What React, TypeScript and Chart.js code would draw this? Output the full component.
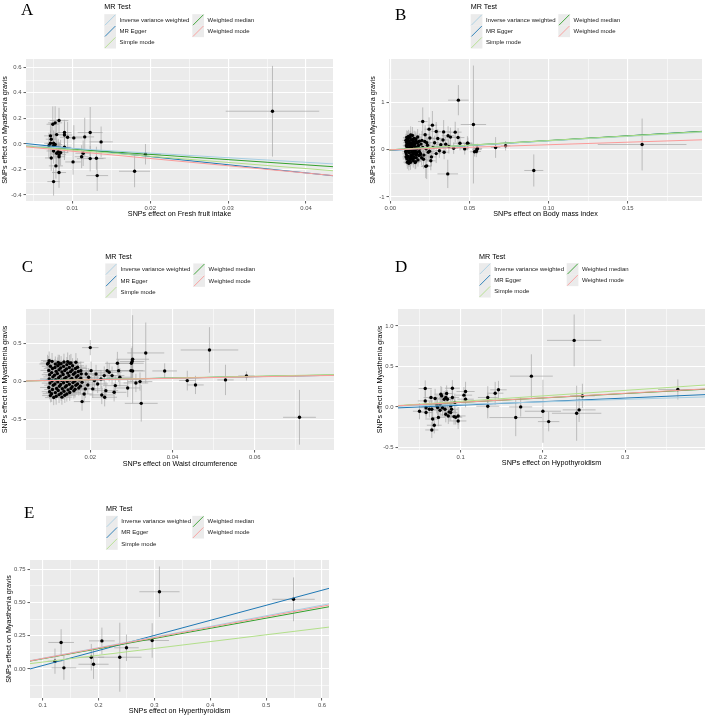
import React, { useEffect, useRef } from 'react';
import { Chart, registerables } from 'chart.js';
Chart.register(...registerables);

const SANS = "'Liberation Sans', Arial, sans-serif";
const SERIF = "'Liberation Serif', 'Times New Roman', serif";

const methodNames = ['Inverse variance weighted', 'MR Egger', 'Simple mode', 'Weighted median', 'Weighted mode'];
const methodColors = ['#A6CEE3', '#1F78B4', '#B2DF8A', '#33A02C', '#FB9A99'];
const methodDrawOrder = [3, 5, 2, 4, 1];
const yTitle = 'SNPs effect on Myasthenia gravis';

// ---------- Panel A : Fresh fruit intake ----------  [x, y, seX, seY]
const fruitPoints = [
  [0.0357, 0.256, 0.006, 0.355], [0.0194, -0.081, 0.002, 0.08], [0.0180, -0.214, 0.002, 0.125],
  [0.0132, -0.248, 0.0014, 0.12], [0.0131, -0.112, 0.0012, 0.09], [0.0123, -0.115, 0.0017, 0.1],
  [0.0137, 0.016, 0.0015, 0.12], [0.0123, 0.089, 0.0016, 0.2], [0.0116, 0.055, 0.0012, 0.15],
  [0.0114, -0.073, 0.001, 0.1], [0.0112, -0.100, 0.0009, 0.09], [0.0102, 0.047, 0.0011, 0.1],
  [0.0101, -0.141, 0.001, 0.1], [0.0094, 0.052, 0.001, 0.12], [0.0090, 0.070, 0.001, 0.1],
  [0.0090, 0.089, 0.0009, 0.1], [0.0090, -0.026, 0.0008, 0.1], [0.0083, 0.183, 0.0012, 0.1],
  [0.0080, 0.073, 0.001, 0.12], [0.0078, 0.165, 0.0009, 0.13], [0.0075, 0.154, 0.0008, 0.14],
  [0.0072, 0.063, 0.0008, 0.1], [0.0073, 0.037, 0.0007, 0.1], [0.0076, 0.005, 0.0009, 0.1],
  [0.0076, -0.013, 0.0008, 0.09], [0.0078, -0.005, 0.0009, 0.1], [0.0072, 0.005, 0.0008, 0.1],
  [0.0070, -0.013, 0.0007, 0.1], [0.0073, -0.110, 0.0008, 0.1], [0.0076, -0.055, 0.0009, 0.1],
  [0.0080, -0.073, 0.0008, 0.1], [0.0082, -0.060, 0.0009, 0.1], [0.0083, -0.084, 0.0009, 0.1],
  [0.0085, -0.068, 0.001, 0.1], [0.0079, -0.172, 0.0009, 0.1], [0.0083, -0.224, 0.0009, 0.12],
  [0.0076, -0.295, 0.0008, 0.11], [0.0083, -0.100, 0.0008, 0.1],
];
const fruitSlopes = [-3.6, -6.4, -4.83, -4.1, -5.7];
const fruitEggerIntercept = 0.029;
const fruitXTicks = [0.01, 0.02, 0.03, 0.04];
const fruitXLabels = ['0.01', '0.02', '0.03', '0.04'];
const fruitYTicks = [-0.4, -0.2, 0, 0.2, 0.4, 0.6];
const fruitYLabels = ['-0.4', '-0.2', '0.0', '0.2', '0.4', '0.6'];

// ---------- Panel B : Body mass index ----------
const bmiPoints = [
  [0.0430, 1.053, 0.0065, 0.32], [0.0525, 0.537, 0.008, 1.25], [0.1590, 0.113, 0.028, 0.55],
  [0.0906, -0.438, 0.006, 0.34], [0.0363, -0.510, 0.0065, 0.3], [0.0728, 0.085, 0.003, 0.1],
  [0.0665, 0.050, 0.003, 0.22], [0.0543, -0.035, 0.003, 0.12], [0.0550, 0.028, 0.003, 0.1],
  [0.0487, 0.141, 0.003, 0.15], [0.0470, 0.020, 0.003, 0.12], [0.0230, -0.340, 0.003, 0.28],
  [0.0256, -0.233, 0.003, 0.2], [0.0266, 0.523, 0.003, 0.3], [0.0245, 0.438, 0.003, 0.25],
  [0.0205, 0.600, 0.003, 0.3], [0.0337, 0.380, 0.004, 0.25], [0.0380, 0.270, 0.004, 0.2],
  [0.0410, 0.375, 0.004, 0.22], [0.0428, 0.260, 0.004, 0.2], [0.0365, 0.300, 0.004, 0.2],
  [0.0333, 0.210, 0.003, 0.2], [0.0319, 0.110, 0.003, 0.15], [0.0370, 0.070, 0.003, 0.15],
  [0.0400, 0.035, 0.003, 0.12], [0.0440, 0.140, 0.004, 0.15], [0.0490, 0.140, 0.003, 0.12],
  [0.0532, -0.042, 0.003, 0.1], [0.0547, 0.007, 0.003, 0.1], [0.0224, -0.350, 0.003, 0.25],
  [0.0161, -0.250, 0.003, 0.15], [0.0190, -0.106, 0.003, 0.15], [0.0290, 0.390, 0.003, 0.2],
  [0.0300, 0.240, 0.003, 0.2], [0.0280, 0.150, 0.003, 0.15], [0.0270, 0.050, 0.003, 0.2],
  [0.0290, -0.080, 0.003, 0.2], [0.0310, -0.020, 0.003, 0.15], [0.0260, -0.150, 0.003, 0.2],
  [0.0340, -0.050, 0.003, 0.15], [0.0350, 0.120, 0.003, 0.15], [0.0250, 0.250, 0.003, 0.2],
  [0.0230, 0.150, 0.003, 0.2], [0.0220, 0.320, 0.003, 0.2], [0.0240, -0.050, 0.003, 0.2],
  [0.0210, -0.200, 0.003, 0.2], [0.0200, 0.200, 0.003, 0.2],
  [0.0098, 0.012, 0.0022, 0.12], [0.0101, -0.085, 0.0024, 0.15], [0.0103, 0.154, 0.0021, 0.13],
  [0.0105, -0.192, 0.0026, 0.14], [0.0107, 0.071, 0.0023, 0.11], [0.0109, 0.236, 0.0025, 0.16],
  [0.0110, -0.031, 0.0022, 0.12], [0.0112, -0.142, 0.0024, 0.13], [0.0113, 0.118, 0.0027, 0.15],
  [0.0115, 0.284, 0.0023, 0.14], [0.0116, -0.238, 0.0025, 0.12], [0.0118, 0.034, 0.0022, 0.1],
  [0.0119, 0.192, 0.0028, 0.17], [0.0121, -0.062, 0.0024, 0.13], [0.0122, -0.171, 0.0023, 0.15],
  [0.0124, 0.097, 0.0026, 0.12], [0.0125, 0.261, 0.0025, 0.14], [0.0127, -0.005, 0.0022, 0.11],
  [0.0128, -0.264, 0.0027, 0.16], [0.0130, 0.152, 0.0024, 0.13], [0.0131, -0.113, 0.0026, 0.12],
  [0.0133, 0.047, 0.0023, 0.14], [0.0134, 0.212, 0.0029, 0.15], [0.0136, -0.198, 0.0025, 0.13],
  [0.0137, -0.041, 0.0024, 0.12], [0.0139, 0.128, 0.0027, 0.14], [0.0140, 0.305, 0.0026, 0.18],
  [0.0142, -0.087, 0.0023, 0.11], [0.0143, 0.018, 0.0028, 0.13], [0.0145, -0.226, 0.0025, 0.15],
  [0.0146, 0.176, 0.0024, 0.12], [0.0148, 0.083, 0.0027, 0.14], [0.0150, -0.152, 0.0026, 0.13],
  [0.0151, 0.243, 0.0029, 0.16], [0.0153, -0.014, 0.0025, 0.12], [0.0155, 0.134, 0.0028, 0.15],
  [0.0157, -0.271, 0.0026, 0.14], [0.0158, -0.096, 0.0027, 0.13], [0.0160, 0.061, 0.0024, 0.12],
  [0.0162, 0.198, 0.003, 0.15], [0.0164, -0.168, 0.0027, 0.14], [0.0166, 0.012, 0.0026, 0.12],
  [0.0168, 0.147, 0.0029, 0.15], [0.0170, -0.058, 0.0028, 0.13], [0.0173, 0.272, 0.003, 0.17],
  [0.0175, -0.214, 0.0027, 0.14], [0.0178, 0.093, 0.0029, 0.13], [0.0181, -0.121, 0.003, 0.15],
  [0.0184, 0.184, 0.0031, 0.16], [0.0187, 0.031, 0.0028, 0.12], [0.0190, -0.079, 0.003, 0.14],
  [0.0194, 0.122, 0.0032, 0.15], [0.0198, -0.167, 0.003, 0.16], [0.0102, 0.093, 0.0023, 0.12],
  [0.0106, -0.128, 0.0024, 0.13], [0.0111, 0.182, 0.0025, 0.14], [0.0114, -0.011, 0.0023, 0.11],
  [0.0117, -0.287, 0.0026, 0.15], [0.0120, 0.137, 0.0024, 0.13], [0.0123, -0.219, 0.0025, 0.14],
  [0.0126, 0.054, 0.0027, 0.12], [0.0129, 0.318, 0.0028, 0.18], [0.0132, -0.152, 0.0026, 0.13],
  [0.0135, 0.089, 0.0025, 0.12], [0.0138, -0.114, 0.0027, 0.14], [0.0141, 0.221, 0.0026, 0.15],
  [0.0144, -0.038, 0.0024, 0.12], [0.0147, -0.178, 0.0028, 0.14], [0.0152, 0.108, 0.0027, 0.13],
  [0.0156, -0.046, 0.0026, 0.12], [0.0161, 0.229, 0.0029, 0.16], [0.0165, -0.105, 0.0028, 0.13],
  [0.0171, 0.038, 0.0027, 0.12], [0.0176, 0.162, 0.003, 0.15], [0.0183, -0.032, 0.0029, 0.13],
  [0.0099, 0.201, 0.0022, 0.14], [0.0100, -0.152, 0.0023, 0.13], [0.0104, 0.262, 0.0024, 0.15],
  [0.0108, -0.262, 0.0025, 0.14], [0.0097, -0.041, 0.0022, 0.12], [0.0205, 0.052, 0.003, 0.15],
  [0.0212, -0.112, 0.003, 0.16], [0.0218, 0.176, 0.003, 0.17], [0.0226, 0.021, 0.0032, 0.15],
  [0.0235, 0.097, 0.0033, 0.16], [0.0248, -0.031, 0.0034, 0.18],
];
const bmiSlopes = [1.9, 2.05, 1.95, 1.98, 1.08];
const bmiEggerIntercept = -0.012;
const bmiXTicks = [0, 0.05, 0.1, 0.15];
const bmiXLabels = ['0.00', '0.05', '0.10', '0.15'];
const bmiYTicks = [-1, 0, 1];
const bmiYLabels = ['-1', '0', '1'];

// ---------- Panel C : Waist circumference ----------
const waistPoints = [
  [0.0200, 0.443, 0.002, 0.1], [0.0490, 0.412, 0.007, 0.3], [0.0335, 0.373, 0.0045, 0.4],
  [0.0303, 0.290, 0.004, 0.58], [0.0302, 0.260, 0.003, 0.2], [0.0300, 0.237, 0.003, 0.2],
  [0.0381, 0.136, 0.003, 0.1], [0.0436, 0.009, 0.002, 0.13], [0.0456, -0.048, 0.002, 0.12],
  [0.0529, 0.018, 0.002, 0.2], [0.0580, 0.070, 0.002, 0.06], [0.0709, -0.474, 0.004, 0.36],
  [0.0324, -0.290, 0.004, 0.24], [0.0266, 0.237, 0.003, 0.15], [0.0269, 0.140, 0.003, 0.15],
  [0.0299, 0.140, 0.003, 0.15], [0.0303, 0.136, 0.003, 0.15], [0.0311, -0.022, 0.003, 0.12],
  [0.0321, -0.004, 0.003, 0.12], [0.0291, -0.088, 0.003, 0.12], [0.0272, 0.053, 0.003, 0.12],
  [0.0261, -0.057, 0.003, 0.12], [0.0258, -0.145, 0.003, 0.12], [0.0238, -0.123, 0.003, 0.12],
  [0.0235, -0.210, 0.003, 0.12], [0.0228, -0.180, 0.003, 0.12], [0.0226, 0.030, 0.003, 0.12],
  [0.0234, 0.075, 0.003, 0.12], [0.0246, 0.118, 0.003, 0.12], [0.0253, 0.075, 0.003, 0.12],
  [0.0241, 0.140, 0.003, 0.12], [0.0214, 0.096, 0.0025, 0.12], [0.0210, 0.009, 0.0025, 0.12],
  [0.0218, -0.035, 0.0025, 0.12], [0.0206, -0.100, 0.0025, 0.12], [0.0202, 0.140, 0.0025, 0.12],
  [0.0196, 0.053, 0.0025, 0.12], [0.0190, 0.096, 0.0025, 0.12], [0.0194, -0.048, 0.0025, 0.12],
  [0.0188, -0.100, 0.0025, 0.12], [0.0180, -0.267, 0.002, 0.12], [0.0185, -0.167, 0.002, 0.12],
  [0.0177, 0.140, 0.002, 0.12], [0.0169, 0.184, 0.002, 0.12], [0.0165, 0.250, 0.002, 0.12],
  [0.0145, 0.259, 0.002, 0.12], [0.0153, 0.240, 0.002, 0.12], [0.0125, 0.228, 0.002, 0.12],
  [0.0100, 0.272, 0.002, 0.12], [0.0096, 0.228, 0.002, 0.12],
  [0.0098, 0.241, 0.0019, 0.09], [0.0103, 0.198, 0.0021, 0.1], [0.0099, 0.143, 0.002, 0.11],
  [0.0101, 0.087, 0.0019, 0.1], [0.0100, 0.032, 0.0022, 0.09], [0.0102, -0.024, 0.002, 0.1],
  [0.0099, -0.081, 0.0021, 0.11], [0.0101, -0.137, 0.0019, 0.1], [0.0103, -0.188, 0.002, 0.09],
  [0.0107, 0.262, 0.0022, 0.11], [0.0108, 0.169, 0.0021, 0.1], [0.0106, 0.114, 0.002, 0.1],
  [0.0109, 0.058, 0.0023, 0.11], [0.0107, 0.004, 0.0021, 0.09], [0.0110, -0.052, 0.0022, 0.1],
  [0.0108, -0.108, 0.002, 0.1], [0.0106, -0.163, 0.0022, 0.11], [0.0111, -0.214, 0.0021, 0.1],
  [0.0115, 0.226, 0.0022, 0.1], [0.0114, 0.181, 0.0023, 0.11], [0.0117, 0.131, 0.0021, 0.1],
  [0.0113, 0.079, 0.0022, 0.1], [0.0116, 0.021, 0.0024, 0.09], [0.0114, -0.036, 0.0022, 0.11],
  [0.0118, -0.094, 0.0021, 0.1], [0.0115, -0.149, 0.0023, 0.1], [0.0117, -0.197, 0.0022, 0.11],
  [0.0122, 0.249, 0.0023, 0.1], [0.0121, 0.204, 0.0022, 0.11], [0.0124, 0.152, 0.0024, 0.1],
  [0.0120, 0.101, 0.0022, 0.1], [0.0123, 0.046, 0.0023, 0.11], [0.0121, -0.008, 0.0024, 0.1],
  [0.0125, -0.065, 0.0022, 0.09], [0.0122, -0.121, 0.0023, 0.1], [0.0124, -0.176, 0.0024, 0.11],
  [0.0129, 0.231, 0.0024, 0.1], [0.0128, 0.174, 0.0023, 0.1], [0.0131, 0.122, 0.0025, 0.11],
  [0.0127, 0.068, 0.0023, 0.1], [0.0130, 0.013, 0.0024, 0.1], [0.0128, -0.043, 0.0025, 0.1],
  [0.0132, -0.099, 0.0023, 0.11], [0.0129, -0.157, 0.0024, 0.1], [0.0131, -0.209, 0.0025, 0.1],
  [0.0136, 0.253, 0.0025, 0.11], [0.0135, 0.196, 0.0024, 0.1], [0.0138, 0.141, 0.0026, 0.1],
  [0.0134, 0.089, 0.0024, 0.11], [0.0137, 0.035, 0.0025, 0.1], [0.0135, -0.019, 0.0026, 0.09],
  [0.0139, -0.076, 0.0024, 0.1], [0.0136, -0.131, 0.0025, 0.11], [0.0138, -0.184, 0.0026, 0.1],
  [0.0143, 0.219, 0.0026, 0.1], [0.0142, 0.163, 0.0025, 0.11], [0.0145, 0.108, 0.0027, 0.1],
  [0.0141, 0.052, 0.0025, 0.1], [0.0144, -0.004, 0.0026, 0.1], [0.0142, -0.058, 0.0027, 0.11],
  [0.0146, -0.113, 0.0025, 0.1], [0.0143, -0.167, 0.0026, 0.1], [0.0150, 0.237, 0.0027, 0.11],
  [0.0149, 0.182, 0.0026, 0.1], [0.0152, 0.127, 0.0028, 0.1], [0.0148, 0.073, 0.0026, 0.1],
  [0.0151, 0.017, 0.0027, 0.11], [0.0149, -0.039, 0.0028, 0.1], [0.0153, -0.094, 0.0026, 0.1],
  [0.0150, -0.148, 0.0027, 0.11], [0.0157, 0.204, 0.0028, 0.1], [0.0156, 0.149, 0.0027, 0.1],
  [0.0159, 0.093, 0.0029, 0.11], [0.0155, 0.038, 0.0027, 0.1], [0.0158, -0.017, 0.0028, 0.1],
  [0.0156, -0.072, 0.0029, 0.11], [0.0160, -0.126, 0.0027, 0.1], [0.0164, 0.168, 0.0029, 0.1],
  [0.0163, 0.112, 0.0028, 0.11], [0.0166, 0.057, 0.003, 0.1], [0.0162, 0.002, 0.0028, 0.1],
  [0.0165, -0.053, 0.0029, 0.1], [0.0163, -0.104, 0.003, 0.11], [0.0171, 0.129, 0.003, 0.1],
  [0.0170, 0.074, 0.0029, 0.1], [0.0173, 0.019, 0.0031, 0.11], [0.0169, -0.036, 0.0029, 0.1],
  [0.0172, -0.089, 0.003, 0.1], [0.0178, 0.098, 0.0031, 0.11], [0.0177, 0.042, 0.003, 0.1],
  [0.0180, -0.012, 0.0032, 0.1], [0.0176, -0.064, 0.003, 0.11],
];
const waistSlopes = [1.0, 0.95, 1.1, 1.05, 0.98];
const waistEggerIntercept = 0.004;
const waistXTicks = [0.02, 0.04, 0.06];
const waistXLabels = ['0.02', '0.04', '0.06'];
const waistYTicks = [-0.5, 0, 0.5];
const waistYLabels = ['-0.5', '0.0', '0.5'];

// ---------- Panel D : Hypothyroidism ----------
const hypoPoints = [
  [0.238, 0.822, 0.033, 0.32], [0.186, 0.380, 0.026, 0.27], [0.248, 0.136, 0.015, 0.15],
  [0.244, -0.037, 0.02, 0.15], [0.241, -0.079, 0.03, 0.34], [0.200, -0.054, 0.022, 0.39],
  [0.207, -0.182, 0.013, 0.12], [0.173, 0.000, 0.014, 0.12], [0.167, -0.132, 0.032, 0.23],
  [0.133, 0.116, 0.012, 0.14], [0.133, 0.008, 0.014, 0.15], [0.142, 0.169, 0.01, 0.14],
  [0.146, 0.211, 0.01, 0.11], [0.364, 0.215, 0.024, 0.125],
  [0.057, 0.227, 0.008, 0.1], [0.050, -0.054, 0.008, 0.1], [0.057, 0.074, 0.009, 0.12],
  [0.058, -0.010, 0.007, 0.1], [0.058, -0.070, 0.008, 0.09], [0.064, 0.116, 0.009, 0.1],
  [0.065, -0.030, 0.008, 0.11], [0.066, -0.150, 0.007, 0.1], [0.068, -0.227, 0.009, 0.1],
  [0.065, -0.285, 0.008, 0.1], [0.069, 0.103, 0.008, 0.12], [0.071, 0.020, 0.009, 0.1],
  [0.076, 0.157, 0.008, 0.1], [0.077, 0.136, 0.007, 0.11], [0.075, -0.041, 0.008, 0.1],
  [0.080, 0.095, 0.009, 0.1], [0.082, 0.116, 0.008, 0.09], [0.083, 0.165, 0.008, 0.1],
  [0.084, 0.095, 0.009, 0.11], [0.081, -0.029, 0.008, 0.1], [0.082, -0.091, 0.007, 0.1],
  [0.085, -0.112, 0.009, 0.1], [0.086, -0.062, 0.008, 0.12], [0.088, 0.012, 0.008, 0.1],
  [0.090, 0.231, 0.009, 0.1], [0.090, 0.116, 0.008, 0.11], [0.089, -0.029, 0.008, 0.1],
  [0.092, -0.120, 0.009, 0.1], [0.094, -0.128, 0.008, 0.09], [0.097, -0.174, 0.01, 0.1],
  [0.097, -0.112, 0.009, 0.11], [0.104, 0.145, 0.01, 0.1], [0.106, 0.190, 0.011, 0.12],
  [0.106, 0.095, 0.01, 0.1], [0.072, -0.008, 0.008, 0.1], [0.062, -0.030, 0.007, 0.1],
  [0.073, -0.130, 0.008, 0.11], [0.075, 0.030, 0.008, 0.1], [0.078, -0.010, 0.009, 0.1],
  [0.088, -0.070, 0.008, 0.1], [0.093, 0.054, 0.009, 0.11],
];
const hypoSlopes = [0.31, 0.44, 0.68, 0.55, 0.56];
const hypoEggerIntercept = -0.023;
const hypoXTicks = [0.1, 0.2, 0.3];
const hypoXLabels = ['0.1', '0.2', '0.3'];
const hypoYTicks = [-0.5, 0, 0.5, 1.0];
const hypoYLabels = ['-0.5', '0.0', '0.5', '1.0'];

// ---------- Panel E : Hyperthyroidism ----------
const hyperPoints = [
  [0.122, 0.058, 0.013, 0.095], [0.133, 0.199, 0.023, 0.1], [0.138, 0.008, 0.022, 0.09],
  [0.187, 0.088, 0.023, 0.1], [0.191, 0.035, 0.027, 0.11], [0.206, 0.211, 0.023, 0.1],
  [0.238, 0.088, 0.039, 0.26], [0.250, 0.159, 0.022, 0.1], [0.296, 0.214, 0.030, 0.13],
  [0.309, 0.581, 0.036, 0.19], [0.549, 0.524, 0.038, 0.165],
];
const hyperSlopes = [0.80, 1.134, 0.514, 0.764, 0.785];
const hyperEggerIntercept = -0.088;
const hyperXTicks = [0.1, 0.2, 0.3, 0.4, 0.5, 0.6];
const hyperXLabels = ['0.1', '0.2', '0.3', '0.4', '0.5', '0.6'];
const hyperYTicks = [0, 0.25, 0.5, 0.75];
const hyperYLabels = ['0.00', '0.25', '0.50', '0.75'];

// ---------- layout (page coordinates) ----------
const panels = [
  {
    letter: 'A', xTitle: 'SNPs effect on Fresh fruit intake', points: fruitPoints, slopes: fruitSlopes, egger: fruitEggerIntercept,
    xMin: 0.00406, xMax: 0.04347, yMin: -0.447, yMax: 0.665,
    xTicks: fruitXTicks, xLabels: fruitXLabels, yTicks: fruitYTicks, yLabels: fruitYLabels,
    g: { left: 0, top: 0, w: 345, h: 225, L: 26, R: 333, T: 59, B: 201, yTitleX: 5, xTitleY: 214,
      letterX: 21, letterY: 15, legX: 104.3, legTitleY: 6.7, legRows: [20, 31.3, 42.7], legCol2X: 192.3 },
  },
  {
    letter: 'B', xTitle: 'SNPs effect on Body mass index', points: bmiPoints, slopes: bmiSlopes, egger: bmiEggerIntercept,
    xMin: -0.0008, xMax: 0.1968, yMin: -1.085, yMax: 1.926,
    xTicks: bmiXTicks, xLabels: bmiXLabels, yTicks: bmiYTicks, yLabels: bmiYLabels,
    g: { left: 365, top: 0, w: 344, h: 225, L: 389, R: 702, T: 59, B: 201, yTitleX: 373.3, xTitleY: 214,
      letterX: 395, letterY: 20, legX: 470.7, legTitleY: 6.7, legRows: [20, 31.3, 42.7], legCol2X: 558.3 },
  },
  {
    letter: 'C', xTitle: 'SNPs effect on Waist circumference', points: waistPoints, slopes: waistSlopes, egger: waistEggerIntercept,
    xMin: 0.00436, xMax: 0.0793, yMin: -0.904, yMax: 0.951,
    xTicks: waistXTicks, xLabels: waistXLabels, yTicks: waistYTicks, yLabels: waistYLabels,
    g: { left: 0, top: 225, w: 345, h: 250, L: 26, R: 334, T: 309, B: 450, yTitleX: 5, xTitleY: 464.3,
      letterX: 21.7, letterY: 271.7, legX: 105.3, legTitleY: 256.7, legRows: [269.3, 281, 292.3], legCol2X: 193.3 },
  },
  {
    letter: 'D', xTitle: 'SNPs effect on Hypothyroidism', points: hypoPoints, slopes: hypoSlopes, egger: hypoEggerIntercept,
    xMin: 0.0239, xMax: 0.397, yMin: -0.533, yMax: 1.21,
    xTicks: hypoXTicks, xLabels: hypoXLabels, yTicks: hypoYTicks, yLabels: hypoYLabels,
    g: { left: 365, top: 225, w: 344, h: 250, L: 398, R: 707, T: 309, B: 450, yTitleX: 380, xTitleY: 462.7,
      letterX: 395, letterY: 272, legX: 479, legTitleY: 256.7, legRows: [269, 280.3, 291.7], legCol2X: 566.7 },
  },
  {
    letter: 'E', xTitle: 'SNPs effect on Hyperthyroidism', points: hyperPoints, slopes: hyperSlopes, egger: hyperEggerIntercept,
    xMin: 0.0773, xMax: 0.6125, yMin: -0.219, yMax: 0.820,
    xTicks: hyperXTicks, xLabels: hyperXLabels, yTicks: hyperYTicks, yLabels: hyperYLabels,
    g: { left: 0, top: 475, w: 345, h: 242, L: 30, R: 329, T: 560, B: 698, yTitleX: 9.3, xTitleY: 710.7,
      letterX: 24, letterY: 518, legX: 106, legTitleY: 509.3, legRows: [521.7, 532.7, 544], legCol2X: 192.3 },
  },
];

function buildTicks(majors: number[], min: number, max: number) {
  const step = majors[1] - majors[0];
  const out: any[] = [];
  const first = majors[0] - step / 2;
  if (first > min) out.push({ value: first, major: false });
  majors.forEach((m, i) => {
    out.push({ value: m, major: true });
    if (i < majors.length - 1) out.push({ value: m + step / 2, major: false });
  });
  const last = majors[majors.length - 1] + step / 2;
  if (last < max) out.push({ value: last, major: false });
  return out;
}

const TITLE_SIZE = 7.2;
const TITLE_LH = TITLE_SIZE * 1.2;

function axisOptions(p: any, axis: 'x' | 'y') {
  const g = p.g;
  const majors = axis === 'x' ? p.xTicks : p.yTicks;
  const labels = axis === 'x' ? p.xLabels : p.yLabels;
  const min = axis === 'x' ? p.xMin : p.yMin;
  const max = axis === 'x' ? p.xMax : p.yMax;
  const titlePad = axis === 'x'
    ? { top: 0, bottom: g.top + g.h - g.xTitleY - TITLE_LH / 2 }
    : { top: g.yTitleX - g.left - TITLE_LH / 2, bottom: 0 };
  return {
    type: 'linear',
    position: axis === 'x' ? 'bottom' : 'left',
    min, max,
    afterBuildTicks: (s: any) => { s.ticks = buildTicks(majors, min, max); },
    afterFit: (s: any) => {
      if (axis === 'x') s.height = g.top + g.h - g.B;
      else s.width = g.L - g.left;
    },
    border: { display: false },
    grid: {
      color: '#FFFFFF',
      lineWidth: (c: any) => (c.tick && c.tick.major ? 1.1 : 0.55),
      drawTicks: true,
      tickLength: 2.5,
      tickWidth: 0.8,
      tickColor: (c: any) => (c.tick && c.tick.major ? '#333333' : 'rgba(0,0,0,0)'),
    },
    ticks: {
      autoSkip: false, maxRotation: 0, minRotation: 0, padding: axis === 'x' ? 1 : 2,
      color: '#4D4D4D', font: { family: SANS, size: 5.9 },
      callback: (v: any, i: number, ticks: any[]) => {
        if (!ticks[i] || !ticks[i].major) return '';
        const k = majors.findIndex((m: number) => Math.abs(m - v) < 1e-9);
        return k >= 0 ? labels[k] : '';
      },
    },
    title: {
      display: true, text: axis === 'x' ? p.xTitle : yTitle, color: '#000000',
      font: { family: SANS, size: TITLE_SIZE, lineHeight: 1.2 }, padding: titlePad,
    },
  };
}

function Panel({ p }: { p: any }) {
  const ref = useRef<HTMLCanvasElement>(null);
  const g = p.g;
  useEffect(() => {
    const canvas = ref.current;
    if (!canvas) return;
    const ox = g.left, oy = g.top;

    const bgPlugin = {
      id: 'panelBg',
      beforeDraw(chart: any) {
        const { ctx, chartArea: a } = chart;
        ctx.save();
        ctx.fillStyle = '#EBEBEB';
        ctx.fillRect(a.left, a.top, a.right - a.left, a.bottom - a.top);
        ctx.restore();
      },
    };

    const errPlugin = {
      id: 'errBars',
      beforeDatasetsDraw(chart: any) {
        const { ctx, chartArea: a, scales } = chart;
        const xs = scales.x, ys = scales.y;
        ctx.save();
        ctx.beginPath();
        ctx.rect(a.left, a.top, a.right - a.left, a.bottom - a.top);
        ctx.clip();
        ctx.strokeStyle = 'rgba(165,165,165,0.85)';
        ctx.lineWidth = 0.8;
        p.points.forEach((pt: number[]) => {
          const [x, y, sx, sy] = pt;
          const px = xs.getPixelForValue(x), py = ys.getPixelForValue(y);
          ctx.beginPath();
          ctx.moveTo(xs.getPixelForValue(x - sx), py);
          ctx.lineTo(xs.getPixelForValue(x + sx), py);
          ctx.moveTo(px, ys.getPixelForValue(y - sy));
          ctx.lineTo(px, ys.getPixelForValue(y + sy));
          ctx.stroke();
        });
        ctx.restore();
      },
    };

    const decorPlugin = {
      id: 'decor',
      afterDraw(chart: any) {
        const ctx = chart.ctx;
        ctx.save();
        ctx.fillStyle = '#000000';
        ctx.font = `17px ${SERIF}`;
        ctx.textBaseline = 'alphabetic';
        ctx.textAlign = 'left';
        ctx.fillText(p.letter, g.letterX - ox, g.letterY - oy);

        ctx.font = `7.2px ${SANS}`;
        ctx.textBaseline = 'middle';
        ctx.fillStyle = '#000000';
        ctx.fillText('MR Test', g.legX - ox, g.legTitleY - oy);

        const K = 11.7;
        methodNames.forEach((name, i) => {
          const col = i < 3 ? 0 : 1;
          const row = i < 3 ? i : i - 3;
          const kx = (col === 0 ? g.legX : g.legCol2X) - ox;
          const ky = g.legRows[row] - oy;
          ctx.fillStyle = '#EBEBEB';
          ctx.fillRect(kx, ky - K / 2, K, K);
          ctx.strokeStyle = methodColors[i];
          ctx.lineWidth = 0.9;
          ctx.beginPath();
          ctx.moveTo(kx + 0.6, ky + K / 2 - 0.6);
          ctx.lineTo(kx + K - 0.6, ky - K / 2 + 0.6);
          ctx.stroke();
          ctx.fillStyle = '#1A1A1A';
          ctx.font = `6px ${SANS}`;
          ctx.fillText(name, kx + 15.3, ky);
        });
        ctx.restore();
      },
    };

    const lineSets = methodNames.map((name, i) => {
      const b = p.slopes[i];
      const a = i === 1 ? p.egger : 0;
      return {
        type: 'line',
        label: name,
        data: [{ x: p.xMin, y: a + b * p.xMin }, { x: p.xMax, y: a + b * p.xMax }],
        borderColor: methodColors[i],
        backgroundColor: methodColors[i],
        borderWidth: 1,
        pointRadius: 0,
        showLine: true,
        fill: false,
        order: methodDrawOrder[i],
      };
    });

    const chart = new Chart(canvas, {
      type: 'scatter',
      data: {
        datasets: [
          {
            type: 'scatter',
            label: 'SNPs',
            data: p.points.map((pt: number[]) => ({ x: pt[0], y: pt[1] })),
            backgroundColor: '#000000',
            borderWidth: 0,
            pointRadius: 1.7,
            order: 10,
          },
          ...lineSets,
        ] as any,
      },
      options: {
        responsive: false,
        animation: false,
        devicePixelRatio: 1,
        layout: {
          padding: { left: 0, top: g.T - g.top, right: g.left + g.w - g.R, bottom: 0 },
        },
        plugins: { legend: { display: false }, tooltip: { enabled: false } },
        scales: { x: axisOptions(p, 'x') as any, y: axisOptions(p, 'y') as any },
      },
      plugins: [bgPlugin, errPlugin, decorPlugin],
    } as any);
    return () => chart.destroy();
  }, []);
  return (
    <canvas
      ref={ref}
      width={g.w}
      height={g.h}
      style={{ position: 'absolute', left: g.left, top: g.top, width: g.w, height: g.h }}
    />
  );
}

export default function App() {
  return (
    <div style={{ position: 'absolute', left: 0, top: 0, width: 709, height: 717, background: '#FFFFFF', overflow: 'hidden' }}>
      {panels.map((p) => (
        <Panel key={p.letter} p={p} />
      ))}
    </div>
  );
}
